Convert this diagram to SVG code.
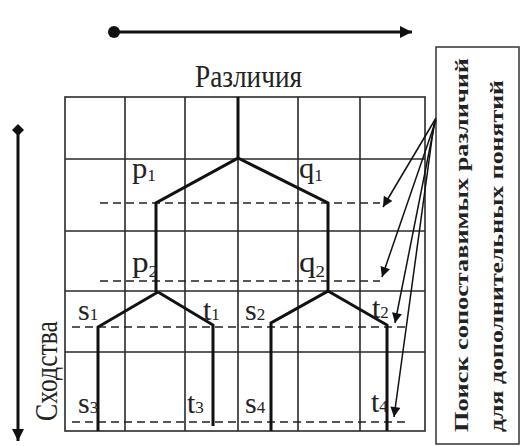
<svg xmlns="http://www.w3.org/2000/svg" width="525" height="446" viewBox="0 0 525 446">
<defs>
<style>
.grid{fill:none;stroke:#2a2a2a;stroke-width:1.6}
.tree{fill:none;stroke:#111;stroke-width:3;stroke-linejoin:miter}
.dash{fill:none;stroke:#222;stroke-width:1.6;stroke-dasharray:8 5}
.conn{fill:none;stroke:#111;stroke-width:1.5}
.axis{fill:none;stroke:#111;stroke-width:3}
.lbl{font-family:"Liberation Serif",serif;font-size:30px;fill:#222}
.sub{font-size:17px}
.box{font-family:"Liberation Serif",serif;font-size:19px;font-weight:bold;fill:#222}
</style>
<marker id="ah" viewBox="0 0 10 10" refX="10" refY="5" markerWidth="12" markerHeight="10" markerUnits="userSpaceOnUse" orient="auto">
<path d="M0,0 L10,5 L0,10 z" fill="#111"/>
</marker>
<marker id="ahBig" viewBox="0 0 10 10" refX="10" refY="5" markerWidth="14" markerHeight="12" markerUnits="userSpaceOnUse" orient="auto">
<path d="M0,0 L10,5 L0,10 z" fill="#111"/>
</marker>
</defs>
<rect width="525" height="446" fill="#fff"/>

<g id="axis-top">
<circle cx="114" cy="32" r="6" fill="#111"/>
<line class="axis" x1="114" y1="32" x2="412" y2="32" marker-end="url(#ahBig)"/>
</g>
<g id="axis-left">
<path d="M18,124 L24,130 L18,136 L12,130 z" fill="#111"/>
<line class="axis" x1="18" y1="130" x2="18" y2="441" marker-end="url(#ahBig)"/>
<text class="lbl" style="font-size:31px" transform="translate(57,421) rotate(-90)" textLength="100" lengthAdjust="spacingAndGlyphs">Сходства</text>
</g>

<g id="title">
<text class="lbl" style="font-size:31px" x="195" y="87" textLength="107" lengthAdjust="spacingAndGlyphs">Различия</text>
</g>

<g id="grid">
<rect class="grid" x="65" y="97" width="360" height="334"/>
<path class="grid" d="M125,97 V431 M185,97 V431 M238,97 V431 M298,97 V431 M360,97 V431 M65,159 H425 M65,231 H425 M65,291 H425 M65,352 H425"/>
</g>

<g id="levels">
<path class="dash" d="M100,203 H380 M100,281 H380 M72,327 H410 M72,422 H410"/>
</g>

<g id="tree-left">
<path class="tree" d="M238,97 V158 L156,203 V292 M158,292 L98,327 V431 M158,292 L213,325 V426"/>
</g>
<g id="tree-right">
<path class="tree" d="M238,158 L328,203 V291 L271,323 V431 M328,291 L387,325 V431"/>
</g>

<g id="labels">
<text class="lbl" x="132" y="178" textLength="24" lengthAdjust="spacingAndGlyphs">p<tspan class="sub" dy="3">1</tspan></text>
<text class="lbl" x="299" y="178" textLength="24" lengthAdjust="spacingAndGlyphs">q<tspan class="sub" dy="3">1</tspan></text>
<text class="lbl" x="132" y="272" textLength="26" lengthAdjust="spacingAndGlyphs">p<tspan class="sub" dy="5">2</tspan></text>
<text class="lbl" x="299" y="272" textLength="26" lengthAdjust="spacingAndGlyphs">q<tspan class="sub" dy="5">2</tspan></text>
<text class="lbl" x="78" y="320">s<tspan class="sub">1</tspan></text>
<text class="lbl" x="203" y="320">t<tspan class="sub">1</tspan></text>
<text class="lbl" x="245" y="320">s<tspan class="sub">2</tspan></text>
<text class="lbl" x="372" y="318">t<tspan class="sub">2</tspan></text>
<text class="lbl" x="78" y="413">s<tspan class="sub">3</tspan></text>
<text class="lbl" x="187" y="413">t<tspan class="sub">3</tspan></text>
<text class="lbl" x="245" y="413">s<tspan class="sub">4</tspan></text>
<text class="lbl" x="371" y="412">t<tspan class="sub">4</tspan></text>
</g>

<g id="search-box">
<rect x="436" y="47" width="83" height="397" fill="#fff" stroke="#333" stroke-width="1.5"/>
<text class="box" transform="translate(468,432) rotate(-90)" textLength="374" lengthAdjust="spacingAndGlyphs">Поиск сопоставимых различий</text>
<text class="box" transform="translate(503,432) rotate(-90)" textLength="352" lengthAdjust="spacingAndGlyphs">для дополнительных понятий</text>
</g>

<g id="connectors">
<line class="conn" x1="436" y1="118" x2="383" y2="207" marker-end="url(#ah)"/>
<line class="conn" x1="436" y1="120" x2="382" y2="277" marker-end="url(#ah)"/>
<line class="conn" x1="435" y1="122" x2="395" y2="323" marker-end="url(#ah)"/>
<line class="conn" x1="434" y1="124" x2="394" y2="417" marker-end="url(#ah)"/>
</g>
</svg>
